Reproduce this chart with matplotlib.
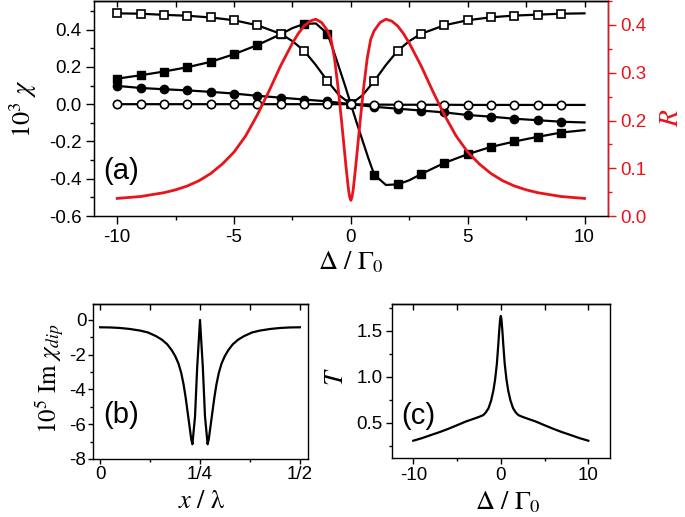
import numpy as np
import matplotlib
matplotlib.use("Agg")
import matplotlib.pyplot as plt
from matplotlib.ticker import MultipleLocator, FixedLocator, FormatStrFormatter

plt.rcParams["font.family"] = "Liberation Sans"
plt.rcParams["mathtext.fontset"] = "stix"
plt.rcParams["axes.unicode_minus"] = False

RED = "#e8141c"

# ---- panel (a): susceptibility curves (markers at integer detunings) ----
sq_fill_x = [-10, -9, -8, -7, -6, -5, -4, -3, -2.5, -2, -1.5, -1, -0.75, -0.5, -0.25, 0,
             0.25, 0.5, 0.75, 1, 1.5, 2, 2.5, 3, 4, 5, 6, 7, 8, 9, 10]
sq_fill_y = [0.137, 0.155, 0.175, 0.198, 0.227, 0.268, 0.317, 0.375, 0.408, 0.430, 0.433, 0.378,
             0.290, 0.195, 0.100, 0.0, -0.100, -0.195, -0.290, -0.378, -0.433, -0.430, -0.408,
             -0.375, -0.315, -0.268, -0.229, -0.200, -0.175, -0.152, -0.139]

sq_open_x = [-10, -9, -8, -7, -6, -5, -4, -3, -2.5, -2, -1.5, -1, -0.5, 0,
             0.5, 1, 1.5, 2, 2.5, 3, 4, 5, 6, 7, 8, 9, 10]
sq_open_y = [0.487, 0.485, 0.479, 0.474, 0.465, 0.450, 0.423, 0.377, 0.338, 0.286, 0.210, 0.124,
             0.048, 0.0, 0.048, 0.124, 0.210, 0.286, 0.338, 0.377, 0.423, 0.450, 0.466, 0.475,
             0.480, 0.485, 0.487]

circ_x = [-10, -9, -8, -7, -6, -5, -4, -3, -2, -1, 0, 1, 2, 3, 4, 5, 6, 7, 8, 9, 10]
circ_fill_y = [0.098, 0.087, 0.080, 0.074, 0.066, 0.057, 0.045, 0.035, 0.025, 0.015, 0.0,
               -0.014, -0.024, -0.034, -0.044, -0.058, -0.067, -0.078, -0.086, -0.094, -0.098]
circ_open_y = [0.0, 0.0, 0.0, 0.0, 0.0, 0.0, 0.0, 0.0, 0.0, 0.0, 0.0,
               -0.002, -0.003, -0.003, -0.003, -0.004, -0.004, -0.004, -0.004, -0.004, -0.004]

# reflectance R (right axis)
r_x = [-10, -9.5, -9, -8.5, -8, -7.5, -7, -6.5, -6, -5.5, -5, -4.5, -4, -3.5, -3, -2.5, -2.25,
       -2, -1.75, -1.5, -1.25, -1.0, -0.85, -0.7, -0.55, -0.4, -0.3, -0.2, -0.1, -0.05, 0,
       0.05, 0.1, 0.2, 0.3, 0.4, 0.55, 0.7, 0.85, 1.0, 1.25, 1.5, 1.75, 2, 2.25, 2.5, 3, 3.5,
       4, 4.5, 5, 5.5, 6, 6.5, 7, 7.5, 8, 8.5, 9, 9.5, 10]
r_y = [0.037, 0.039, 0.041, 0.045, 0.049, 0.055, 0.063, 0.074, 0.089, 0.109, 0.134, 0.168, 0.212,
       0.262, 0.315, 0.362, 0.382, 0.398, 0.408, 0.412, 0.405, 0.388, 0.370, 0.330, 0.270, 0.200,
       0.150, 0.100, 0.055, 0.040, 0.033,
       0.040, 0.055, 0.100, 0.150, 0.200, 0.270, 0.330, 0.370, 0.388, 0.405, 0.412, 0.408, 0.398,
       0.382, 0.362, 0.315, 0.262, 0.212, 0.168, 0.134, 0.109, 0.089, 0.074, 0.063, 0.055, 0.049,
       0.045, 0.041, 0.039, 0.037]

# ---- panel (b): Im chi_dip vs x / lambda ----
b_x = [0.0, 0.025, 0.05, 0.075, 0.1, 0.12, 0.14, 0.155, 0.168, 0.179, 0.188, 0.196, 0.203,
       0.209, 0.214, 0.219, 0.225, 0.228, 0.231, 0.2375, 0.243, 0.25,
       0.257, 0.2625, 0.269, 0.272, 0.275, 0.281, 0.286, 0.291, 0.297, 0.304, 0.312, 0.321,
       0.332, 0.345, 0.36, 0.38, 0.4, 0.425, 0.45, 0.475, 0.5]
b_y = [-0.42, -0.43, -0.46, -0.52, -0.61, -0.72, -0.93, -1.14, -1.40, -1.73, -2.08, -2.50, -3.05,
       -3.72, -4.45, -5.30, -6.33, -6.85, -7.15, -5.56, -2.69, 0.0,
       -2.69, -5.56, -7.15, -6.85, -6.33, -5.30, -4.45, -3.72, -3.05, -2.50, -2.08, -1.73,
       -1.40, -1.14, -0.93, -0.72, -0.61, -0.52, -0.46, -0.43, -0.42]

# ---- panel (c): transmission T ----
c_x = [-10, -9, -8, -7, -6, -5, -4, -3, -2.5, -2, -1.7, -1.4, -1.1, -0.85, -0.65, -0.45, -0.3,
       -0.18, -0.08, 0, 0.08, 0.18, 0.3, 0.45, 0.65, 0.85, 1.1, 1.4, 1.7, 2, 2.5, 3, 4, 5, 6,
       7, 8, 9, 10]
c_y = [0.307, 0.335, 0.368, 0.400, 0.436, 0.475, 0.515, 0.548, 0.565, 0.585, 0.615, 0.660, 0.745,
       0.850, 0.970, 1.140, 1.330, 1.500, 1.620, 1.660, 1.620, 1.500, 1.330, 1.140, 0.970, 0.850,
       0.745, 0.660, 0.615, 0.585, 0.565, 0.548, 0.515, 0.475, 0.436, 0.400, 0.368, 0.335, 0.307]

TICK_FS = 13.5


def marker_points(xs, ys):
    xs = np.asarray(xs, float)
    ys = np.asarray(ys, float)
    keep = (xs == np.round(xs)) & (xs < 10)
    return xs[keep], ys[keep]


def style_axis(ax, length=5.5, pad=3.5):
    ax.tick_params(axis="both", which="both", direction="out", labelsize=TICK_FS,
                   width=1.0, pad=pad)
    ax.tick_params(which="major", length=length)
    ax.tick_params(which="minor", length=length * 0.55)
    for s in ax.spines.values():
        s.set_linewidth(1.0)


def top_ticks(ax):
    sec = ax.secondary_xaxis("top")
    sec.xaxis.set_major_locator(FixedLocator(ax.get_xticks()))
    sec.xaxis.set_minor_locator(ax.xaxis.get_minor_locator())
    sec.tick_params(which="both", direction="in", length=4, labeltop=False, width=1.0)
    sec.spines["top"].set_linewidth(1.0)


fig = plt.figure(figsize=(6.85, 5.17), dpi=100)

# ---------------- panel (a) ----------------
ax = fig.add_axes([0.137, 0.582, 0.7504, 0.416])
lw = 1.6
ms = 5.5
ax.plot(sq_fill_x, sq_fill_y, color="black", lw=lw, zorder=2)
ax.plot(*marker_points(sq_fill_x, sq_fill_y), ls="none", marker="s", ms=ms,
        mfc="black", mec="black", zorder=3)
ax.plot(circ_x, circ_fill_y, color="black", lw=lw, zorder=2)
ax.plot(*marker_points(circ_x, circ_fill_y), ls="none", marker="o", ms=ms + 0.5,
        mfc="black", mec="black", zorder=3)
ax.plot(sq_open_x, sq_open_y, color="black", lw=lw, zorder=4)
ax.plot(*marker_points(sq_open_x, sq_open_y), ls="none", marker="s", ms=ms,
        mfc="white", mec="black", mew=1.2, zorder=5)
ax.plot(circ_x, circ_open_y, color="black", lw=lw, zorder=4)
ax.plot(*marker_points(circ_x, circ_open_y), ls="none", marker="o", ms=ms + 0.5,
        mfc="white", mec="black", mew=1.2, zorder=5)

ax.set_xlim(-11, 11)
ax.set_ylim(-0.6, 0.553)
ax.xaxis.set_major_locator(MultipleLocator(5))
ax.xaxis.set_minor_locator(MultipleLocator(2.5))
ax.yaxis.set_major_locator(MultipleLocator(0.2))
ax.yaxis.set_minor_locator(MultipleLocator(0.1))
ax.yaxis.set_major_formatter(FormatStrFormatter("%.1f"))
style_axis(ax)
ax.set_xlabel(r"$\Delta\ /\ \Gamma_0$", fontsize=19, va="center")
ax.xaxis.set_label_coords(0.5, -0.215)
ax.set_ylabel(r"$10^3\ \chi$", fontsize=19, va="center")
ax.yaxis.set_label_coords(-0.138, 0.5)
ax.text(-10.6, -0.36, "(a)", fontsize=21, ha="left", va="center")
top_ticks(ax)

ax2 = ax.twinx()
ax2.plot(r_x, r_y, color=RED, lw=2.0)
ax2.set_ylim(0, 0.45)
ax2.yaxis.set_major_locator(MultipleLocator(0.1))
ax2.yaxis.set_minor_locator(MultipleLocator(0.05))
ax2.yaxis.set_major_formatter(FormatStrFormatter("%.1f"))
ax2.tick_params(axis="y", which="both", direction="out", labelsize=TICK_FS, colors=RED,
                width=1.0, pad=3.5)
ax2.tick_params(axis="y", which="major", length=5.5)
ax2.tick_params(axis="y", which="minor", length=3)
ax2.spines["right"].set_color(RED)
ax2.spines["right"].set_linewidth(1.0)
ax2.set_ylabel(r"$R$", fontsize=20, color=RED, va="center", rotation=90)
ax2.yaxis.set_label_coords(1.122, 0.46)

# ---------------- panel (b) ----------------
axb = fig.add_axes([0.1362, 0.1122, 0.3139, 0.2998])
axb.plot(b_x, b_y, color="black", lw=1.6)
axb.set_xlim(-0.017, 0.521)
axb.set_ylim(-8, 0.92)
axb.xaxis.set_major_locator(FixedLocator([0, 0.25, 0.5]))
axb.xaxis.set_minor_locator(FixedLocator([0.125, 0.375]))
axb.set_xticklabels(["0", "1/4", "1/2"])
axb.yaxis.set_major_locator(MultipleLocator(2))
axb.yaxis.set_minor_locator(MultipleLocator(1))
style_axis(axb, length=3.5, pad=1.5)
axb.set_xlabel(r"$x\ /\ \mathrm{\lambda}$", fontsize=19, va="center")
axb.xaxis.set_label_coords(0.506, -0.27)
axb.set_ylabel(r"$10^5\ \mathrm{Im}\ \chi_{dip}$", fontsize=18, va="center")
axb.yaxis.set_label_coords(-0.2, 0.52)
axb.text(0.0075, -5.46, "(b)", fontsize=21, ha="left", va="center")
top_ticks(axb)

# ---------------- panel (c) ----------------
axc = fig.add_axes([0.5718, 0.1135, 0.3187, 0.2985])
axc.plot(c_x, c_y, color="black", lw=1.6)
axc.set_xlim(-12.47, 12.48)
axc.set_ylim(0.116, 1.79)
axc.xaxis.set_major_locator(MultipleLocator(10))
axc.xaxis.set_minor_locator(MultipleLocator(5))
axc.yaxis.set_major_locator(MultipleLocator(0.5))
axc.yaxis.set_minor_locator(MultipleLocator(0.25))
axc.yaxis.set_major_formatter(FormatStrFormatter("%.1f"))
style_axis(axc, length=4, pad=2.5)
axc.set_xlabel(r"$\Delta\ /\ \Gamma_0$", fontsize=19, va="center")
axc.xaxis.set_label_coords(0.533, -0.283)
axc.set_ylabel(r"$T$", fontsize=19, va="center")
axc.yaxis.set_label_coords(-0.255, 0.527)
axc.text(-11.35, 0.574, "(c)", fontsize=21, ha="left", va="center")
top_ticks(axc)

fig.savefig("out.png", dpi=100)
